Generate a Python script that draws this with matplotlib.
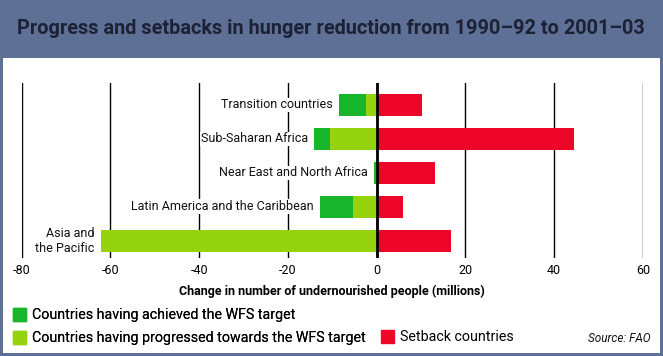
import matplotlib.pyplot as plt
from matplotlib.patches import Patch, Rectangle

regions = ['Transition countries', 'Sub-Saharan Africa', 'Near East and North Africa',
           'Latin America and the Caribbean', 'Asia and\nthe Pacific']
progressed = [-2.4, -10.5, 0.0, -5.4, -62.2]
achieved = [-6.1, -3.7, -0.6, -7.4, 0.0]
setback = [10.2, 44.5, 13.2, 5.9, 16.8]
xticks = [-80, -60, -40, -20, 0, 20, 40, 60]

c_dark = '#17b52c'
c_light = '#96d30f'
c_red = '#ee0628'
c_head = '#5e7096'

plt.rcParams['font.family'] = ['Roboto', 'DejaVu Sans']

W, H = 663, 356
fig = plt.figure(figsize=(W / 100, H / 100), dpi=100, facecolor=c_head)
fig.patches.append(Rectangle((3 / W, 3 / H), 657 / W, (353 - 58) / H,
                             transform=fig.transFigure, facecolor='white',
                             edgecolor='none', zorder=-5))
fig.text(17 / W, 1 - 28 / H, 'Progress and setbacks in hunger reduction from 1990\u201392 to 2001\u201303',
         fontsize=14.3, fontweight='bold', color='#1c2135', ha='left', va='center')

ax = fig.add_axes([21.7 / W, 1 - 258 / H, (643 - 21.7) / W, (258 - 83) / H])
ax.set_facecolor('none')
y = list(range(len(regions)))
ax.barh(y, progressed, height=0.645, color=c_light, zorder=3)
ax.barh(y, achieved, left=progressed, height=0.645, color=c_dark, zorder=3)
ax.barh(y, setback, height=0.645, color=c_red, zorder=3)

# region names sit just left of the bar, on white so the grid stops behind them
for i, name in enumerate(regions):
    xl = min(0, progressed[i] + achieved[i], progressed[i])
    ax.annotate(name, (xl, i), xytext=(-6, 0), textcoords='offset pixels',
                ha='right', va='center', multialignment='right', fontsize=9,
                color='#111111', zorder=4,
                bbox=dict(facecolor='white', edgecolor='none', pad=0.5))

ax.set_xlim(-80, 60)
ax.set_ylim(4.51, -0.645)
ax.set_xticks(xticks)
ax.set_xticklabels([str(t) for t in xticks], fontsize=9)
ax.set_yticks([])
ax.tick_params(axis='x', length=0, pad=4)
ax.grid(axis='x', color='black', linewidth=1, zorder=1)
ax.axvline(0, color='black', linewidth=2, zorder=5)
for s in ax.spines.values():
    s.set_visible(False)
ax.set_xlabel('Change in number of undernourished people (millions)',
              fontsize=9, fontweight='bold', labelpad=6)

leg1 = fig.legend(handles=[Patch(color=c_dark), Patch(color=c_light)],
                  labels=['Countries having achieved the WFS target',
                          'Countries having progressed towards the WFS target'],
                  loc='upper left', bbox_to_anchor=(13 / W, 1 - 308 / H), frameon=False,
                  fontsize=10.3, handlelength=0.9, handleheight=1.0, handletextpad=0.45,
                  labelspacing=0.6, borderpad=0, borderaxespad=0)
fig.legend(handles=[Patch(color=c_red)], labels=['Setback countries'],
           loc='upper left', bbox_to_anchor=(381 / W, 1 - 330 / H), frameon=False,
           fontsize=10.3, handlelength=0.9, handleheight=1.0, handletextpad=0.45,
           borderpad=0, borderaxespad=0)
fig.add_artist(leg1)

fig.text(651 / W, 1 - 338 / H, 'Source: FAO', fontsize=8.5, style='italic',
         ha='right', va='center', color='#111111')

fig.savefig('out.png', dpi=100, facecolor=c_head)
